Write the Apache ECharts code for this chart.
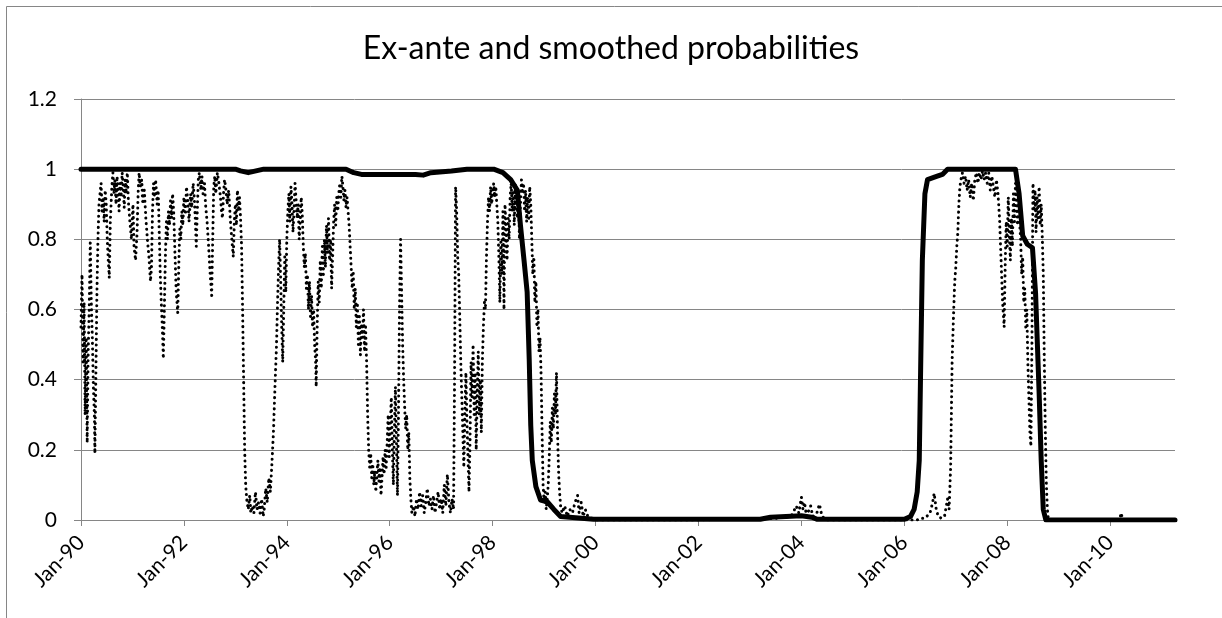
<!DOCTYPE html>
<html>
<head>
<meta charset="utf-8">
<script src="https://cdn.jsdelivr.net/npm/echarts@6/dist/echarts.min.js"></script>
<style>
html,body{margin:0;padding:0;background:#fff;}
#chart{width:1222px;height:618px;}
</style>
</head>
<body>
<div id="chart"></div>
<script>
// ---- DATA (dates as decimal years) ----
const titleText = 'Ex-ante and smoothed probabilities';
const xTickYears = [1990, 1992, 1994, 1996, 1998, 2000, 2002, 2004, 2006, 2008, 2010];

const exanteYears = [
1990.00,1990.02,1990.04,1990.06,1990.08,1990.10,1990.12,1990.14,1990.16,1990.18,1990.20,1990.22,1990.24,1990.26,1990.27,1990.29,1990.31,1990.33,1990.35,1990.37,1990.39,1990.41,1990.43,1990.45,1990.47,1990.49,1990.51,1990.53,1990.55,1990.57,1990.60,1990.62,1990.64,1990.66,1990.68,1990.70,1990.72,1990.74,1990.76,1990.78,1990.80,1990.82,1990.84,1990.86,1990.88,1990.90,1990.92,1990.95,1990.98,
1991.01,1991.03,1991.06,1991.09,1991.11,1991.13,1991.15,1991.18,1991.20,1991.23,1991.26,1991.29,1991.32,1991.35,1991.37,1991.39,1991.41,1991.43,1991.45,1991.48,1991.50,1991.52,1991.54,1991.56,1991.58,1991.60,1991.62,1991.64,1991.66,1991.68,1991.70,1991.72,1991.74,1991.76,1991.78,1991.80,1991.83,1991.85,1991.88,1991.90,1991.92,1991.94,1991.96,1991.98,
1992.00,1992.03,1992.05,1992.08,1992.10,1992.13,1992.15,1992.18,1992.20,1992.22,1992.24,1992.26,1992.28,1992.30,1992.33,1992.35,1992.37,1992.40,1992.42,1992.45,1992.48,1992.51,1992.54,1992.56,1992.58,1992.60,1992.62,1992.65,1992.68,1992.71,1992.73,1992.75,1992.77,1992.79,1992.81,1992.84,1992.87,1992.90,1992.93,1992.96,1992.98,
1993.00,1993.02,1993.04,1993.06,1993.08,1993.10,1993.12,1993.14,1993.16,1993.18,1993.20,1993.22,1993.25,1993.28,1993.30,1993.33,1993.36,1993.39,1993.42,1993.45,1993.48,1993.51,1993.54,1993.56,1993.59,1993.62,1993.65,1993.68,1993.71,1993.74,1993.77,1993.80,1993.82,1993.84,1993.86,1993.88,1993.90,1993.92,1993.94,1993.96,1993.98,
1994.00,1994.02,1994.04,1994.06,1994.08,1994.10,1994.12,1994.14,1994.16,1994.18,1994.20,1994.22,1994.24,1994.26,1994.28,1994.30,1994.32,1994.34,1994.36,1994.38,1994.40,1994.42,1994.44,1994.46,1994.48,1994.50,1994.52,1994.54,1994.56,1994.57,1994.59,1994.61,1994.63,1994.65,1994.67,1994.69,1994.71,1994.73,1994.75,1994.77,1994.79,1994.81,1994.83,1994.85,1994.87,1994.89,1994.91,1994.93,1994.95,1994.97,1994.99,
1995.01,1995.03,1995.05,1995.07,1995.09,1995.11,1995.13,1995.15,1995.17,1995.19,1995.21,1995.23,1995.25,1995.27,1995.29,1995.31,1995.33,1995.35,1995.37,1995.39,1995.41,1995.43,1995.45,1995.47,1995.49,1995.51,1995.53,1995.55,1995.57,1995.59,1995.61,1995.63,1995.65,1995.67,1995.69,1995.71,1995.73,1995.75,1995.77,1995.79,1995.81,1995.83,1995.85,1995.87,1995.89,1995.91,1995.93,1995.95,1995.97,1995.99,
1996.01,1996.03,1996.05,1996.07,1996.09,1996.11,1996.13,1996.15,1996.17,1996.19,1996.21,1996.23,1996.25,1996.27,1996.29,1996.31,1996.33,1996.35,1996.37,1996.39,1996.41,1996.43,1996.46,1996.49,1996.52,1996.55,1996.58,1996.61,1996.64,1996.67,1996.70,1996.73,1996.76,1996.79,1996.82,1996.85,1996.88,1996.91,1996.94,1996.97,
1997.00,1997.03,1997.06,1997.09,1997.12,1997.15,1997.18,1997.21,1997.24,1997.26,1997.28,1997.30,1997.32,1997.34,1997.36,1997.38,1997.40,1997.42,1997.44,1997.46,1997.48,1997.50,1997.52,1997.54,1997.56,1997.58,1997.60,1997.62,1997.64,1997.66,1997.68,1997.70,1997.72,1997.74,1997.76,1997.78,1997.80,1997.82,1997.84,1997.86,1997.88,1997.90,1997.92,1997.94,1997.96,1997.98,
1998.00,1998.02,1998.04,1998.06,1998.08,1998.10,1998.12,1998.14,1998.16,1998.18,1998.20,1998.22,1998.24,1998.26,1998.28,1998.30,1998.32,1998.34,1998.36,1998.38,1998.40,1998.42,1998.44,1998.46,1998.48,1998.50,1998.52,1998.54,1998.56,1998.58,1998.60,1998.62,1998.64,1998.66,1998.68,1998.70,1998.72,1998.74,1998.76,1998.78,1998.80,1998.82,1998.84,1998.86,1998.88,1998.90,1998.92,1998.94,1998.96,1998.98,
1999.00,1999.02,1999.04,1999.06,1999.08,1999.10,1999.12,1999.14,1999.16,1999.18,1999.20,1999.22,1999.24,1999.26,1999.28,1999.30,1999.32,1999.35,1999.40,1999.45,1999.50,1999.55,1999.60,1999.65,1999.68,1999.72,1999.76,1999.80,1999.85,
2000.00,2001.00,2002.00,2002.76,2003.00,2003.50,2003.80,2003.90,2003.95,2004.00,2004.03,2004.06,2004.10,2004.15,2004.18,2004.22,2004.30,2004.35,2004.40,2004.50,2005.00,2006.00,2006.25,
2006.30,2006.40,2006.50,2006.55,2006.58,2006.62,2006.66,2006.72,2006.78,2006.84,2006.87,2006.90,2006.93,2006.96,2006.98,
2007.00,2007.02,2007.04,2007.06,2007.08,2007.10,2007.13,2007.16,2007.19,2007.22,2007.25,2007.28,2007.31,2007.34,2007.37,2007.40,2007.43,2007.46,2007.49,2007.52,2007.55,2007.58,2007.61,2007.64,2007.67,2007.70,2007.73,2007.76,2007.79,2007.82,2007.85,2007.87,2007.89,2007.91,2007.94,2007.96,2007.98,
2008.00,2008.02,2008.04,2008.06,2008.08,2008.10,2008.12,2008.14,2008.16,2008.18,2008.20,2008.22,2008.24,2008.26,2008.28,2008.30,2008.32,2008.34,2008.36,2008.38,2008.40,2008.42,2008.44,2008.46,2008.48,2008.50,2008.52,2008.54,2008.56,2008.58,2008.60,2008.62,2008.64,2008.66,2008.68,2008.70,2008.72,2008.74,2008.76,2008.78,2008.80,
2009.00,2010.00,2010.19,2010.21,2010.24,2010.30,2011.26
];

const exanteValues = [
0.55,0.70,0.45,0.62,0.30,0.52,0.22,0.48,0.60,0.79,0.62,0.52,0.38,0.30,0.19,0.42,0.65,0.80,0.90,0.93,0.96,0.88,0.92,0.85,0.94,0.90,0.80,0.74,0.69,0.85,0.95,0.99,0.93,0.97,0.90,0.98,0.94,0.88,0.96,0.92,0.99,0.95,0.89,0.97,0.93,0.99,0.91,0.85,0.80,
0.90,0.78,0.74,0.82,0.93,0.99,0.95,0.97,0.90,0.94,0.86,0.80,0.75,0.68,0.72,0.88,0.96,0.92,0.97,0.90,0.94,0.82,0.70,0.62,0.55,0.46,0.60,0.75,0.85,0.80,0.88,0.84,0.91,0.86,0.93,0.88,0.74,0.65,0.59,0.72,0.83,0.80,0.88,0.84,
0.92,0.87,0.95,0.90,0.85,0.93,0.89,0.96,0.92,0.86,0.78,0.88,0.97,0.99,0.94,0.98,0.93,0.96,0.90,0.85,0.78,0.70,0.64,0.80,0.95,0.98,0.93,0.99,0.96,0.92,0.88,0.86,0.93,0.97,0.95,0.90,0.94,0.86,0.80,0.75,0.85,
0.90,0.84,0.94,0.88,0.92,0.86,0.78,0.60,0.40,0.20,0.10,0.06,0.03,0.07,0.02,0.04,0.02,0.08,0.03,0.05,0.02,0.06,0.01,0.03,0.09,0.05,0.12,0.08,0.16,0.25,0.38,0.50,0.62,0.72,0.80,0.68,0.55,0.45,0.60,0.75,0.65,
0.80,0.88,0.93,0.85,0.95,0.90,0.82,0.88,0.96,0.91,0.86,0.90,0.80,0.85,0.92,0.87,0.78,0.72,0.76,0.66,0.70,0.60,0.68,0.58,0.64,0.55,0.60,0.50,0.45,0.38,0.55,0.68,0.62,0.74,0.66,0.78,0.70,0.80,0.72,0.84,0.76,0.86,0.74,0.80,0.66,0.75,0.85,0.90,0.84,0.92,0.88,
0.93,0.96,0.92,0.98,0.95,0.91,0.94,0.89,0.92,0.88,0.84,0.78,0.72,0.66,0.71,0.60,0.66,0.55,0.62,0.50,0.58,0.47,0.56,0.52,0.60,0.48,0.55,0.45,0.30,0.20,0.15,0.19,0.12,0.16,0.10,0.14,0.08,0.13,0.17,0.11,0.15,0.07,0.12,0.18,0.13,0.20,0.15,0.22,0.30,0.18,
0.26,0.35,0.20,0.10,0.25,0.38,0.22,0.07,0.30,0.60,0.80,0.65,0.50,0.40,0.32,0.26,0.30,0.20,0.25,0.12,0.06,0.02,0.04,0.01,0.06,0.03,0.08,0.04,0.07,0.02,0.05,0.09,0.04,0.06,0.03,0.07,0.02,0.05,0.08,0.03,
0.06,0.02,0.10,0.04,0.13,0.05,0.02,0.06,0.03,0.40,0.95,0.88,0.75,0.70,0.58,0.45,0.35,0.25,0.15,0.30,0.42,0.28,0.18,0.08,0.22,0.45,0.35,0.50,0.30,0.42,0.20,0.35,0.48,0.30,0.40,0.25,0.45,0.55,0.62,0.60,0.75,0.85,0.92,0.88,0.95,0.90,
0.93,0.96,0.92,0.95,0.90,0.85,0.75,0.62,0.80,0.70,0.88,0.60,0.90,0.82,0.74,0.86,0.80,0.92,0.96,0.88,0.94,0.84,0.96,0.90,0.86,0.94,0.80,0.90,0.97,0.93,0.96,0.88,0.94,0.85,0.92,0.86,0.95,0.90,0.80,0.70,0.75,0.62,0.68,0.55,0.60,0.48,0.52,0.42,0.25,0.10,
0.05,0.08,0.03,0.06,0.10,0.18,0.28,0.22,0.32,0.26,0.36,0.30,0.42,0.25,0.14,0.08,0.04,0.02,0.04,0.01,0.03,0.02,0.05,0.07,0.02,0.05,0.01,0.03,0.01,
0.00,0.00,0.00,0.003,0.002,0.005,0.01,0.04,0.02,0.065,0.03,0.05,0.01,0.03,0.04,0.01,0.02,0.045,0.01,0.00,0.00,0.00,0.00,
0.005,0.005,0.02,0.05,0.076,0.03,0.01,0.005,0.01,0.06,0.03,0.15,0.46,0.60,0.68,
0.72,0.78,0.82,0.90,0.95,0.97,0.99,0.96,0.98,0.94,0.97,0.92,0.96,0.91,0.97,0.99,0.96,0.99,0.97,0.995,0.97,0.99,0.96,0.99,0.94,0.98,0.95,0.92,0.97,0.93,0.86,0.78,0.70,0.62,0.55,0.72,0.85,
0.78,0.92,0.82,0.74,0.86,0.78,0.93,0.85,0.96,0.90,0.84,0.92,0.85,0.80,0.70,0.75,0.62,0.66,0.55,0.60,0.45,0.35,0.25,0.21,0.50,0.96,0.88,0.94,0.82,0.92,0.86,0.95,0.84,0.90,0.81,0.70,0.45,0.25,0.10,0.03,0.00,
0.00,0.00,0.002,0.02,0.005,0.00,0.00
];

const smoothedYears = [
1990.00,1993.00,1993.10,1993.25,1993.40,1993.55,1995.15,1995.30,1995.45,1996.50,1996.65,1996.80,1997.20,1997.50,
1998.02,1998.20,1998.35,1998.48,1998.54,1998.61,1998.67,1998.71,1998.74,1998.77,1998.84,1998.93,1999.06,1999.19,1999.32,1999.96,
2003.20,2003.40,2003.70,2004.00,2004.20,2004.31,2006.00,2006.12,2006.19,2006.25,2006.29,2006.32,2006.35,2006.40,2006.45,2006.64,2006.74,2006.84,
2008.16,2008.23,2008.30,2008.39,2008.49,2008.55,2008.62,2008.66,2008.70,2008.75,2011.26
];
const smoothedValues = [
1.0,1.0,0.995,0.99,0.995,1.0,1.0,0.99,0.985,0.985,0.983,0.99,0.995,1.0,
1.0,0.99,0.97,0.94,0.84,0.74,0.65,0.46,0.27,0.17,0.095,0.057,0.052,0.03,0.01,0.002,
0.002,0.008,0.01,0.012,0.008,0.002,0.002,0.01,0.03,0.08,0.17,0.46,0.74,0.93,0.97,0.98,0.985,1.0,
1.0,0.93,0.81,0.786,0.776,0.648,0.36,0.17,0.03,0.0,0.0
];

// ---- CHART ----
const exanteData = exanteYears.map((y, i) => [y, exanteValues[i]]);
const smoothedData = smoothedYears.map((y, i) => [y, smoothedValues[i]]);
const gray = '#868686';
const fontFamily = 'Lato, "Open Sans", sans-serif';

const chart = echarts.init(document.getElementById('chart'), null, { renderer: 'canvas' });
chart.setOption({
  animation: false,
  backgroundColor: '#ffffff',
  title: {
    text: titleText,
    left: 'center',
    top: 28,
    textStyle: { fontFamily: fontFamily, fontSize: 32, fontWeight: 'normal', color: '#000' }
  },
  graphic: [{
    type: 'rect',
    shape: { x: 6.5, y: 6.5, width: 1400, height: 800 },
    style: { fill: 'none', stroke: gray, lineWidth: 1 },
    silent: true
  }],
  grid: { left: 81, right: 47, top: 99, bottom: 98 },
  xAxis: {
    type: 'value',
    min: 1990,
    max: 2011.26,
    interval: 2,
    axisLine: { show: true, lineStyle: { color: gray, width: 1 } },
    axisTick: { show: true, length: 6, customValues: xTickYears, lineStyle: { color: gray } },
    splitLine: { show: false },
    axisLabel: {
      customValues: xTickYears,
      rotate: 45,
      margin: 19,
      color: '#000',
      fontFamily: fontFamily,
      fontSize: 21,
      formatter: v => 'Jan-' + String(Math.round(v) % 100).padStart(2, '0')
    }
  },
  yAxis: {
    type: 'value',
    min: 0,
    max: 1.2,
    interval: 0.2,
    axisLine: { show: true, lineStyle: { color: gray, width: 1 } },
    axisTick: { show: true, length: 7, lineStyle: { color: gray } },
    splitLine: { show: true, lineStyle: { color: gray, width: 1 } },
    axisLabel: {
      margin: 24,
      color: '#000',
      fontFamily: fontFamily,
      fontSize: 21,
      formatter: v => String(Math.round(v * 10) / 10)
    }
  },
  series: [
    {
      name: 'Ex-ante',
      type: 'line',
      data: exanteData,
      showSymbol: false,
      symbol: 'none',
      z: 2,
      lineStyle: { color: '#000', width: 3, type: [0.1, 5.5], cap: 'round', join: 'round' }
    },
    {
      name: 'Smoothed',
      type: 'line',
      data: smoothedData,
      showSymbol: false,
      symbol: 'none',
      z: 3,
      lineStyle: { color: '#000', width: 5, cap: 'round', join: 'round' }
    }
  ]
});
</script>
</body>
</html>
